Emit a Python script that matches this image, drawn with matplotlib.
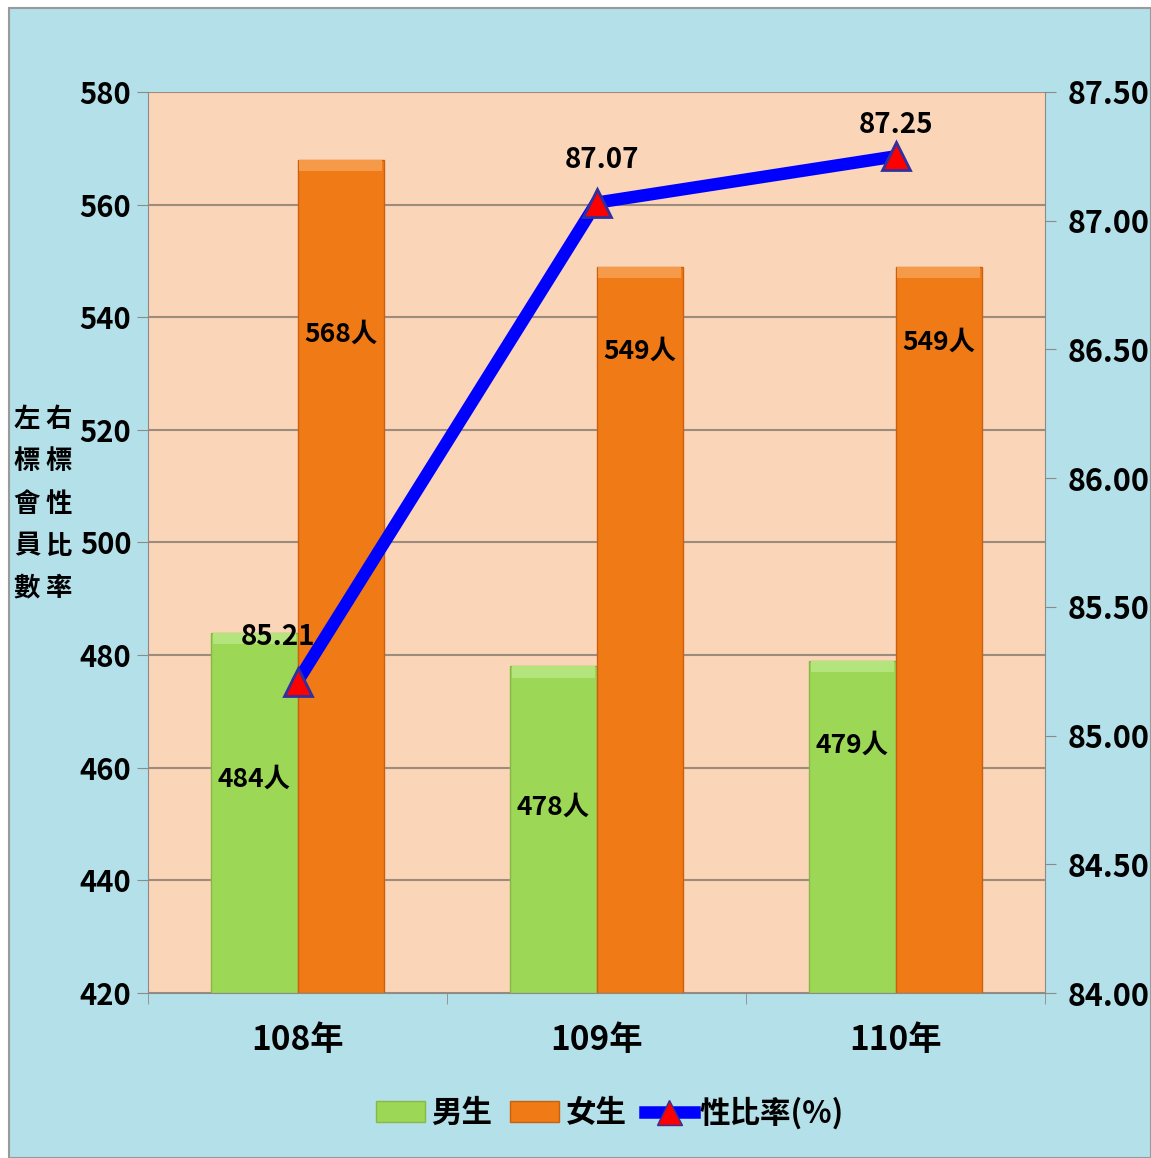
import matplotlib
matplotlib.use('Agg')
from matplotlib import pyplot as plt
from matplotlib.patches import Rectangle, Patch
from matplotlib.lines import Line2D
import numpy as np

cjk_font = ['Noto Sans CJK TC', 'DejaVu Sans']
plt.rcParams['font.family'] = cjk_font
plt.rcParams['font.weight'] = 'bold'

# data
years = ['108年', '109年', '110年']
male = [484, 478, 479]
female = [568, 549, 549]
ratio = [85.21, 87.07, 87.25]
left_ticks = [420, 440, 460, 480, 500, 520, 540, 560, 580]
right_ticks = [84.00, 84.50, 85.00, 85.50, 86.00, 86.50, 87.00, 87.50]

fig = plt.figure(figsize=(11.51, 11.58), dpi=100, facecolor='white')
# light blue backdrop with a white margin at top/left
fig.patches.append(Rectangle((9 / 1151, 0), 1 - 9 / 1151, 1 - 8 / 1158,
                             transform=fig.transFigure, facecolor='#B3E0E9',
                             edgecolor='#9A9A9A', lw=1.5, zorder=-10))

ax = fig.add_axes([148 / 1151, 1 - 993 / 1158, 897 / 1151, 901 / 1158])
ax.set_facecolor('#FBD5B8')
x = np.arange(len(years))
w = 0.288

ax.bar(x - w / 2, [m - 420 for m in male], w, bottom=420, color='#9CD855',
       edgecolor='#86B848', lw=1, zorder=3)
ax.bar(x + w / 2, [f - 420 for f in female], w, bottom=420, color='#F07A16',
       edgecolor='#C86010', lw=1, zorder=3)
# lighter top bevel
ax.bar(x - w / 2, [2.0] * 3, w * 0.96, bottom=[m - 2.0 for m in male], color='#B4E47C', lw=0, zorder=4)
ax.bar(x + w / 2, [2.0] * 3, w * 0.96, bottom=[f - 2.0 for f in female], color='#F59A48', lw=0, zorder=4)

ax.set_xlim(-0.5, 2.5)
ax.set_ylim(420, 580)
ax.set_yticks(left_ticks)
ax.set_yticklabels([str(t) for t in left_ticks], fontsize=21)
ax.set_xticks(x)
ax.set_xticklabels(years, fontsize=24)
ax.set_xticks([-0.5, 0.5, 1.5, 2.5], minor=True)
ax.tick_params(axis='x', which='major', length=0, pad=22)
ax.tick_params(axis='x', which='minor', length=8, color='#8A8A8A')
ax.tick_params(axis='y', length=8, color='#8A8A8A', pad=4)
ax.grid(axis='y', color='#9C8C7C', lw=1.5, zorder=1)
for s in ax.spines.values():
    s.set_color('#8A8A8A')
ax.spines['top'].set_visible(False)

# bar value labels
male_label_y = [458, 453, 464]
female_label_y = [537, 534, 535.5]
for i in range(3):
    ax.text(x[i] - w / 2, male_label_y[i], f'{male[i]}人', ha='center', va='center',
            fontsize=19, zorder=6)
    ax.text(x[i] + w / 2, female_label_y[i], f'{female[i]}人', ha='center', va='center',
            fontsize=19, zorder=6)

ax2 = ax.twinx()
ax2.set_ylim(84, 87.5)
ax2.set_yticks(right_ticks)
ax2.set_yticklabels([f'{t:.2f}' for t in right_ticks], fontsize=22)
ax2.tick_params(axis='y', length=8, color='#8A8A8A', pad=8)
for s in ax2.spines.values():
    s.set_visible(False)
ax2.plot(x, ratio, color='#0000FF', lw=9, zorder=5, solid_capstyle='round')
ax2.plot(x, ratio, ls='none', marker='^', markersize=20, markerfacecolor='#FF0000',
         markeredgecolor='#3030A0', markeredgewidth=2, zorder=6)
ratio_label_dx = [-0.065, 0.02, 0.0]
ratio_label_dy = [0.173, 0.166, 0.12]
for i in range(3):
    ax2.text(x[i] + ratio_label_dx[i], ratio[i] + ratio_label_dy[i], f'{ratio[i]:.2f}',
             ha='center', va='center', fontsize=20, zorder=7)

# vertical axis captions
fig.text(27 / 1151, 1 - 504 / 1158, '\n'.join('左標會員數'), ha='center', va='center',
         fontsize=19, linespacing=1.72, weight='bold')
fig.text(59 / 1151, 1 - 504 / 1158, '\n'.join('右標性比率'), ha='center', va='center',
         fontsize=19, linespacing=1.72, weight='bold')

handles = [Patch(facecolor='#9CD855', edgecolor='#86B848'),
           Patch(facecolor='#F07A16', edgecolor='#C86010'),
           Line2D([], [], color='#0000FF', lw=9, marker='^', markersize=18,
                  markerfacecolor='#FF0000', markeredgecolor='#3030A0')]
fig.legend(handles, ['男生', '女生', '性比率(%)'], loc='center', ncol=3,
           bbox_to_anchor=(0.53, 1 - 1113 / 1158), frameon=False,
           handlelength=1.6, handletextpad=0.2, columnspacing=0.6,
           prop={'family': cjk_font, 'weight': 'bold', 'size': 22})

fig.savefig('out.png', dpi=100, facecolor=fig.get_facecolor())
